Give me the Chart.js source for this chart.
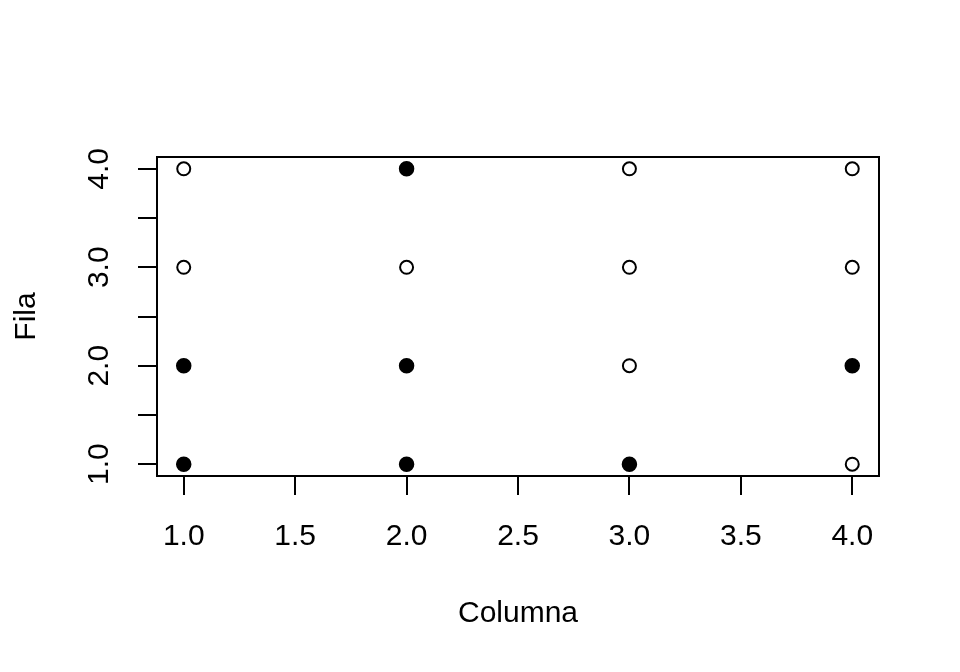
<!DOCTYPE html>
<html>
<head>
<meta charset="utf-8">
<script src="https://cdn.jsdelivr.net/npm/chart.js@4"></script>
<style>
  html, body { margin: 0; padding: 0; background: #fff; }
  #wrap { width: 960px; height: 672px; }
</style>
</head>
<body>
<div id="wrap"><canvas id="plot" width="960" height="672"></canvas></div>
<script>
// grid positions (column, row)
const openCols = [1, 1, 2, 3, 3, 3, 4, 4, 4];
const openRows = [3, 4, 3, 2, 3, 4, 1, 3, 4];
const filledCols = [1, 1, 2, 2, 2, 3, 4];
const filledRows = [1, 2, 1, 2, 4, 1, 2];

const xTicks = [1, 1.5, 2, 2.5, 3, 3.5, 4];
const yTicks = [1, 1.5, 2, 2.5, 3, 3.5, 4];
const yLabelValues = [1, 2, 3, 4];

const FONT = '"Liberation Sans", Arial, sans-serif';
const FSIZE = 30;

const toPoints = (xs, ys) => xs.map((x, i) => ({ x: x, y: ys[i] }));

// R style box + rotated y labels
const rBox = {
    id: 'rBox',
    afterDraw(chart) {
        const ctx = chart.ctx;
        const a = chart.chartArea;
        ctx.save();
        ctx.strokeStyle = '#000';
        ctx.lineWidth = 2;
        ctx.strokeRect(a.left, a.top, a.right - a.left, a.bottom - a.top);

        const ys = chart.scales.y;
        ctx.fillStyle = '#000';
        ctx.font = FSIZE + 'px ' + FONT;
        ctx.textAlign = 'center';
        ctx.textBaseline = 'middle';
        yLabelValues.forEach(v => {
            const py = ys.getPixelForValue(v);
            ctx.save();
            ctx.translate(100, py);
            ctx.rotate(-Math.PI / 2);
            ctx.fillText(v.toFixed(1), 0, 0);
            ctx.restore();
        });
        ctx.restore();
    }
};

new Chart(document.getElementById('plot'), {
    type: 'scatter',
    data: {
        datasets: [
            {
                label: 'open',
                data: toPoints(openCols, openRows),
                pointStyle: 'circle',
                pointRadius: 6.5,
                pointBorderWidth: 2,
                pointBorderColor: '#000',
                pointBackgroundColor: '#fff'
            },
            {
                label: 'filled',
                data: toPoints(filledCols, filledRows),
                pointStyle: 'circle',
                pointRadius: 7,
                pointBorderWidth: 1.5,
                pointBorderColor: '#000',
                pointBackgroundColor: '#000'
            }
        ]
    },
    options: {
        responsive: false,
        animation: false,
        layout: { padding: { top: 157, right: 81, left: 0, bottom: 0 } },
        plugins: {
            legend: { display: false },
            tooltip: { enabled: false }
        },
        scales: {
            x: {
                type: 'linear',
                min: 0.88,
                max: 4.12,
                afterBuildTicks: s => { s.ticks = xTicks.map(v => ({ value: v })); },
                afterFit: s => { s.height = 196; },
                grid: { drawOnChartArea: false, drawTicks: true, tickLength: 19, color: '#000', lineWidth: 2 },
                border: { display: false },
                ticks: {
                    color: '#000',
                    font: { size: FSIZE, family: FONT },
                    padding: 24,
                    maxRotation: 0,
                    callback: v => Number(v).toFixed(1)
                },
                title: {
                    display: true,
                    text: 'Columna',
                    color: '#000',
                    font: { size: FSIZE, family: FONT },
                    padding: { top: 0, bottom: 40 }
                }
            },
            y: {
                type: 'linear',
                min: 0.88,
                max: 4.12,
                afterBuildTicks: s => { s.ticks = yTicks.map(v => ({ value: v })); },
                afterFit: s => { s.width = 157; },
                grid: { drawOnChartArea: false, drawTicks: true, tickLength: 19, color: '#000', lineWidth: 2 },
                border: { display: false },
                ticks: { display: false },
                title: {
                    display: true,
                    text: 'Fila',
                    color: '#000',
                    font: { size: FSIZE, family: FONT },
                    padding: { top: 9, bottom: 0 }
                }
            }
        }
    },
    plugins: [rBox]
});
</script>
</body>
</html>
